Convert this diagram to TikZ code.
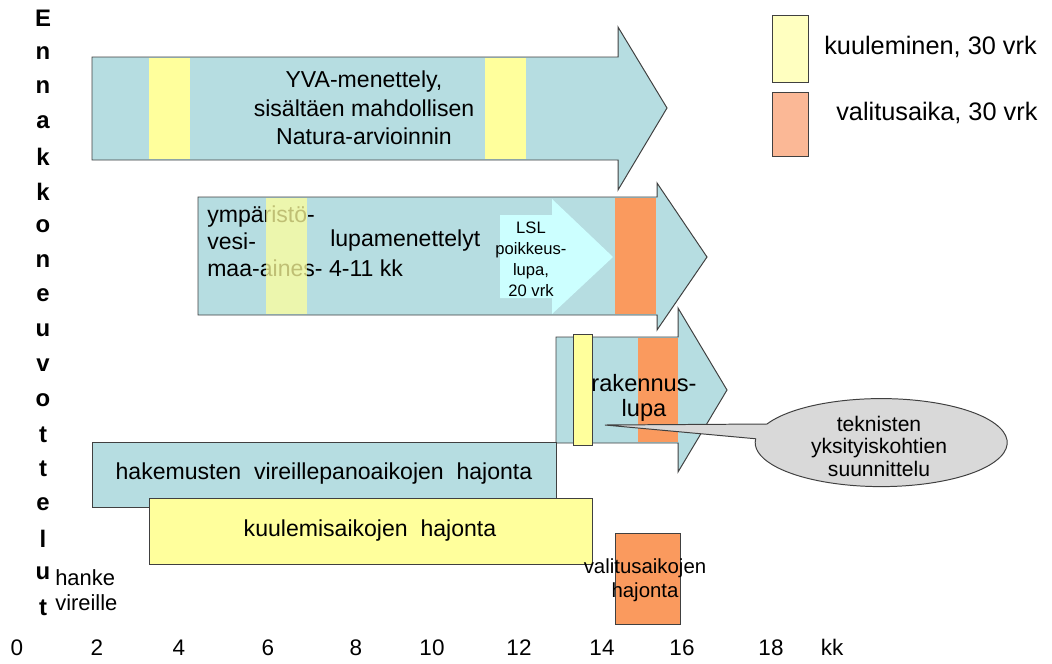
\documentclass[tikz,border=0pt]{standalone}
\usepackage{fontspec}
\setmainfont{Liberation Sans}
\definecolor{tealfill}{HTML}{B6DDE1}
\definecolor{edgegray}{HTML}{404040}
\definecolor{kuulyellow}{HTML}{FFFF9C}
\definecolor{legyellow}{HTML}{FFFFC0}
\definecolor{valorange}{HTML}{FA9A5E}
\definecolor{legorange}{HTML}{FBB896}
\definecolor{lslcyan}{HTML}{CCFFFF}
\definecolor{bubblegray}{HTML}{D9D9D9}
\newcommand\bigtxt{\fontsize{16.4}{20}\selectfont}
\tikzset{
 phase/.style={fill=tealfill,draw=edgegray,line width=0.7pt},
 kuulband/.style={fill=kuulyellow},
 valband/.style={fill=valorange},
 kuulbox/.style={fill=kuulyellow,draw=edgegray,line width=0.7pt},
 valbox/.style={fill=valorange,draw=edgegray,line width=0.7pt},
 bubble/.style={fill=bubblegray,draw=edgegray,line width=0.7pt},
 txt/.style={inner sep=0pt,align=center,font=\bigtxt},
 vletter/.style={inner sep=0pt,font=\fontsize{17}{17}\selectfont\bfseries},
 axislab/.style={inner sep=0pt,font=\fontsize{16}{16}\selectfont}
}
\begin{document}
\begin{tikzpicture}[x=0.025cm,y=-0.025cm]
 \useasboundingbox (0,0) rectangle (1052,664);
 % YVA
 \draw[phase](92,57)--(618,57)--(618,27)--(667,108)--(618,190)--(618,160)--(92,160)--cycle;
 \fill[kuulband](149,58) rectangle (190,159);
 \fill[kuulband](485,58) rectangle (526,159);
 \node[txt,font=\fontsize{16.4}{20.3}\selectfont] (yva) at (364,108) {YVA-menettely,\\sisältäen mahdollisen\\Natura-arvioinnin};
 % luvat
 \draw[phase](198,197)--(657,197)--(657,183)--(707,257)--(657,330)--(657,315)--(198,315)--cycle;
 \fill[lslcyan](500,215)--(552,215)--(552,199)--(613,257)--(552,314)--(552,298)--(500,298)--cycle;
 \fill[valband](615,198) rectangle (656,314);
 \node[txt,align=left,anchor=west,font=\fontsize{16.4}{19.2}\selectfont] (lupa) at (207,241) {ympäristö-\\vesi-\\maa-aines- 4-11 kk};
 \node[txt,anchor=west] (lupamen) at (330,241) {lupamenettelyt};
 \fill[kuulband,fill opacity=0.75](266,198) rectangle (307,314);
 \node[txt,font=\fontsize{11.8}{15}\selectfont] (lsl) at (531,259) {LSL\\poikkeus-\\lupa,\\20 vrk};
 % rakennuslupa
 \draw[phase](556,337)--(678,337)--(678,308)--(727,390)--(678,472)--(678,443)--(556,443)--cycle;
 \fill[valband](638,338) rectangle (678,442);
 \draw[kuulbox](573,334) rectangle (592,445);
 \node[txt,font=\fontsize{16.8}{18}\selectfont] (rak) at (644,398) {rakennus-\\lupa};
 % hajonnat
 \draw[phase](92,442) rectangle (556,507);
 \node[txt] (hak) at (324,474) {hakemusten~ vireillepanoaikojen~ hajonta};
 \draw[kuulbox](149,498) rectangle (592,564);
 \node[txt] (kuul) at (370,531) {kuulemisaikojen~ hajonta};
 \draw[valbox](615,533) rectangle (680,624);
 \node[txt,font=\fontsize{14.5}{17}\selectfont] (val) at (645,580) {valitusaikojen\\hajonta};
 % puhekupla
 \draw[bubble](605,425)--(767,424) arc[start angle=205,end angle=545,x radius=126,y radius=44]--cycle;
 \node[txt,font=\fontsize{15}{16}\selectfont] (tek) at (879,446) {teknisten\\yksityiskohtien\\suunnittelu};
 % selite
 \draw[kuulbox,fill=legyellow](772,15) rectangle (808,82);
 \draw[valbox,fill=legorange](772,92) rectangle (808,156);
 \node[txt,anchor=west,font=\fontsize{18}{18}\selectfont] (legk) at (824,47) {kuuleminen, 30 vrk};
 \node[txt,anchor=west,font=\fontsize{18}{18}\selectfont] (legv) at (836,113) {valitusaika, 30 vrk};
 % ennakkoneuvottelut
 \foreach \c [count=\i] in {E,n,n,a,k,k,o,n,e,u,v,o,t,t,e,l,u,t}
  \node[vletter] (v\i) at (43,{18+34.7*(\i-1)}) {\c};
 \node[txt,align=left,anchor=west,font=\fontsize{15.6}{18}\selectfont] (hanke) at (55,590) {hanke\\vireille};
 % aika-akseli
 \foreach \v/\px in {0/17,2/97,4/179,6/268,8/356,10/432,12/519,14/602,16/682,18/771}
  \node[axislab] (x\v) at (\px,648) {\v};
 \node[axislab] (kk) at (832,647) {kk};
\end{tikzpicture}
\end{document}
